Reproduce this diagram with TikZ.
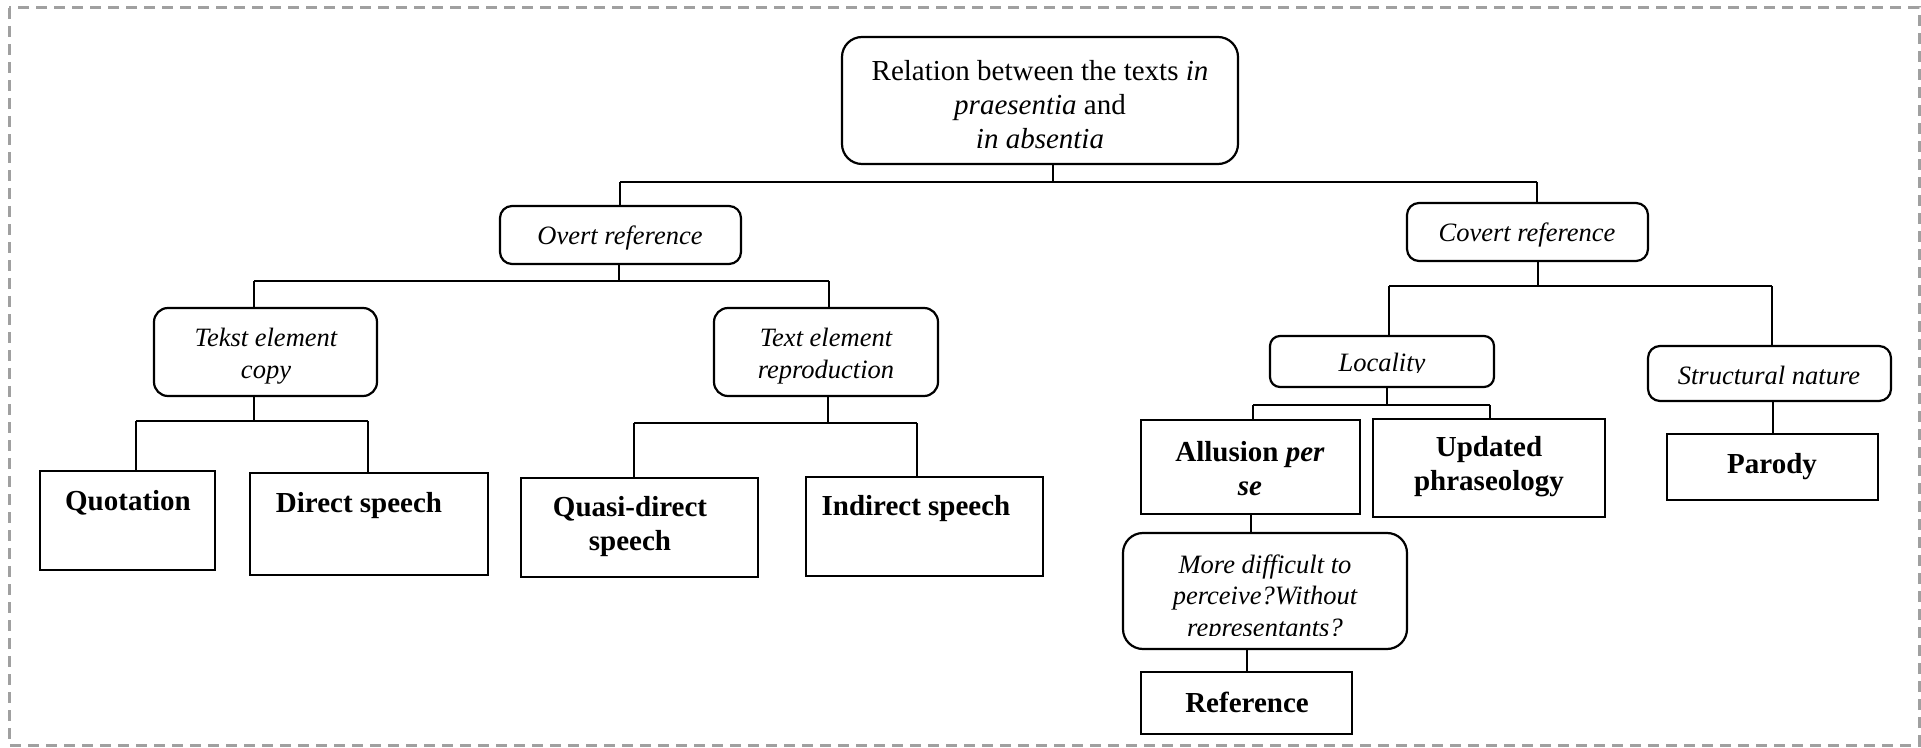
\documentclass[tikz,border=0pt]{standalone}
\usepackage{fontspec}
\setmainfont{Liberation Serif}
\definecolor{bordergray}{RGB}{160,160,160}
\begin{document}
\begin{tikzpicture}[x=0.5pt,y=-0.5pt,
  box/.style={draw,line width=1.1pt,inner sep=0pt},
  rbox/.style={box,rounded corners=6pt},
  conn/.style={line width=1pt},
  lbl/.style={font=\fontsize{13.25}{15.75}\selectfont\itshape,align=center,inner sep=0pt},
  blbl/.style={font=\fontsize{14.5}{17}\selectfont\bfseries,align=center,inner sep=0pt},
  rlbl/.style={font=\fontsize{14.5}{17}\selectfont,align=center,inner sep=0pt}]
\useasboundingbox (0,0) rectangle (1921,748);
\draw[bordergray,line width=1.5pt,dash pattern=on 5.5pt off 3.5pt] (9,8) rectangle (1919,745);

% boxes
\node[rbox,rounded corners=10pt,minimum width=198pt,minimum height=63.5pt] (root) at (1040,100.5) {};
\node[rbox,minimum width=120.5pt,minimum height=29pt] (overt) at (620.5,235) {};
\node[rbox,rounded corners=7pt,minimum width=111.5pt,minimum height=44pt] (tekst) at (265.5,352) {};
\node[rbox,rounded corners=7pt,minimum width=112pt,minimum height=44pt] (repro) at (826,352) {};
\node[box,minimum width=87.5pt,minimum height=49.5pt] (quot) at (127.5,520.5) {};
\node[box,minimum width=119pt,minimum height=51pt] (direct) at (369,524) {};
\node[box,minimum width=118.5pt,minimum height=49.5pt] (quasi) at (639.5,527.5) {};
\node[box,minimum width=118.5pt,minimum height=49.5pt] (indirect) at (924.5,526.5) {};
\node[rbox,minimum width=120.5pt,minimum height=29pt] (covert) at (1527.5,232) {};
\node[rbox,rounded corners=5pt,minimum width=112pt,minimum height=25.5pt] (locality) at (1382,361.5) {};
\node[rbox,minimum width=121.5pt,minimum height=27.5pt] (struct) at (1769.5,373.5) {};
\node[box,minimum width=105.5pt,minimum height=33pt] (parody) at (1772.5,467) {};
\node[box,minimum width=109.5pt,minimum height=47pt] (allusion) at (1250.5,467) {};
\node[box,minimum width=116pt,minimum height=49pt] (updated) at (1489,468) {};
\node[rbox,rounded corners=10pt,minimum width=142pt,minimum height=58pt] (more) at (1265,591) {};
\node[box,minimum width=105.5pt,minimum height=31pt] (reference) at (1246.5,703) {};

% texts
\node[rlbl] (rootT) at (1040,105) {Relation between the texts \textit{in}\\ \textit{praesentia} and\\ \textit{in absentia}};
\node[lbl] (overtT) at (620,238) {Overt reference};
\node[lbl] (tekstT) at (266,356) {Tekst element\\ copy};
\node[lbl] (reproT) at (826,356) {Text element\\ reproduction};
\node[blbl] (quotT) at (128,503) {Quotation};
\node[blbl] (directT) at (359,506) {Direct speech};
\node[blbl] (quasiT) at (630,527) {Quasi-direct\\ speech};
\node[blbl] (indirectT) at (916,509) {Indirect speech};
\node[lbl] (covertT) at (1527,235) {Covert reference};
\begin{scope}
  \clip (1272,338) rectangle (1492,373);
  \node[lbl] (localityT) at (1382,365) {Locality};
\end{scope}
\node[lbl] (structT) at (1769,375) {Structural nature};
\node[blbl] (parodyT) at (1772,467) {Parody};
\node[blbl] (allusionT) at (1250,469) {Allusion \textit{per}\\ \textit{se}};
\node[blbl] (updatedT) at (1489,467) {Updated\\ phraseology};
\begin{scope}
  \clip (1125,535) rectangle (1405,635);
  \node[lbl] (moreT) at (1265,598) {More difficult to\\ perceive?Without\\ representants?};
\end{scope}
\node[blbl] (referenceT) at (1247,702) {Reference};

% connectors
\coordinate (rb) at (1053,182);
\coordinate (rbL) at (620,182);
\coordinate (rbR) at (1537,182);
\draw[conn] (root.south -| rb) -- (rb);
\draw[conn] (rbL) -- (rbR);
\draw[conn] (rbL) -- (overt.north -| rbL);
\draw[conn] (rbR) -- (covert.north -| rbR);

\coordinate (ob) at (619,281);
\coordinate (obL) at (254,281);
\coordinate (obR) at (829,281);
\draw[conn] (overt.south -| ob) -- (ob);
\draw[conn] (obL) -- (obR);
\draw[conn] (obL) -- (tekst.north -| obL);
\draw[conn] (obR) -- (repro.north -| obR);

\coordinate (tb) at (254,421);
\coordinate (tbL) at (136,421);
\coordinate (tbR) at (368,421);
\draw[conn] (tekst.south -| tb) -- (tb);
\draw[conn] (tbL) -- (tbR);
\draw[conn] (tbL) -- (quot.north -| tbL);
\draw[conn] (tbR) -- (direct.north -| tbR);

\coordinate (pb) at (828,423);
\coordinate (pbL) at (634,423);
\coordinate (pbR) at (917,423);
\draw[conn] (repro.south -| pb) -- (pb);
\draw[conn] (pbL) -- (pbR);
\draw[conn] (pbL) -- (quasi.north -| pbL);
\draw[conn] (pbR) -- (indirect.north -| pbR);

\coordinate (cb) at (1538,286);
\coordinate (cbL) at (1389,286);
\coordinate (cbR) at (1772,286);
\draw[conn] (covert.south -| cb) -- (cb);
\draw[conn] (cbL) -- (cbR);
\draw[conn] (cbL) -- (locality.north -| cbL);
\draw[conn] (cbR) -- (struct.north -| cbR);

\coordinate (lb) at (1387,405);
\coordinate (lbL) at (1253,405);
\coordinate (lbR) at (1490,405);
\draw[conn] (locality.south -| lb) -- (lb);
\draw[conn] (lbL) -- (lbR);
\draw[conn] (lbL) -- (allusion.north -| lbL);
\draw[conn] (lbR) -- (updated.north -| lbR);

\draw[conn] (parody.north) -- (parody.north |- struct.south);
\draw[conn] (allusion.south) -- (allusion.south |- more.north);
\draw[conn] (reference.north) -- (reference.north |- more.south);
\end{tikzpicture}
\end{document}
